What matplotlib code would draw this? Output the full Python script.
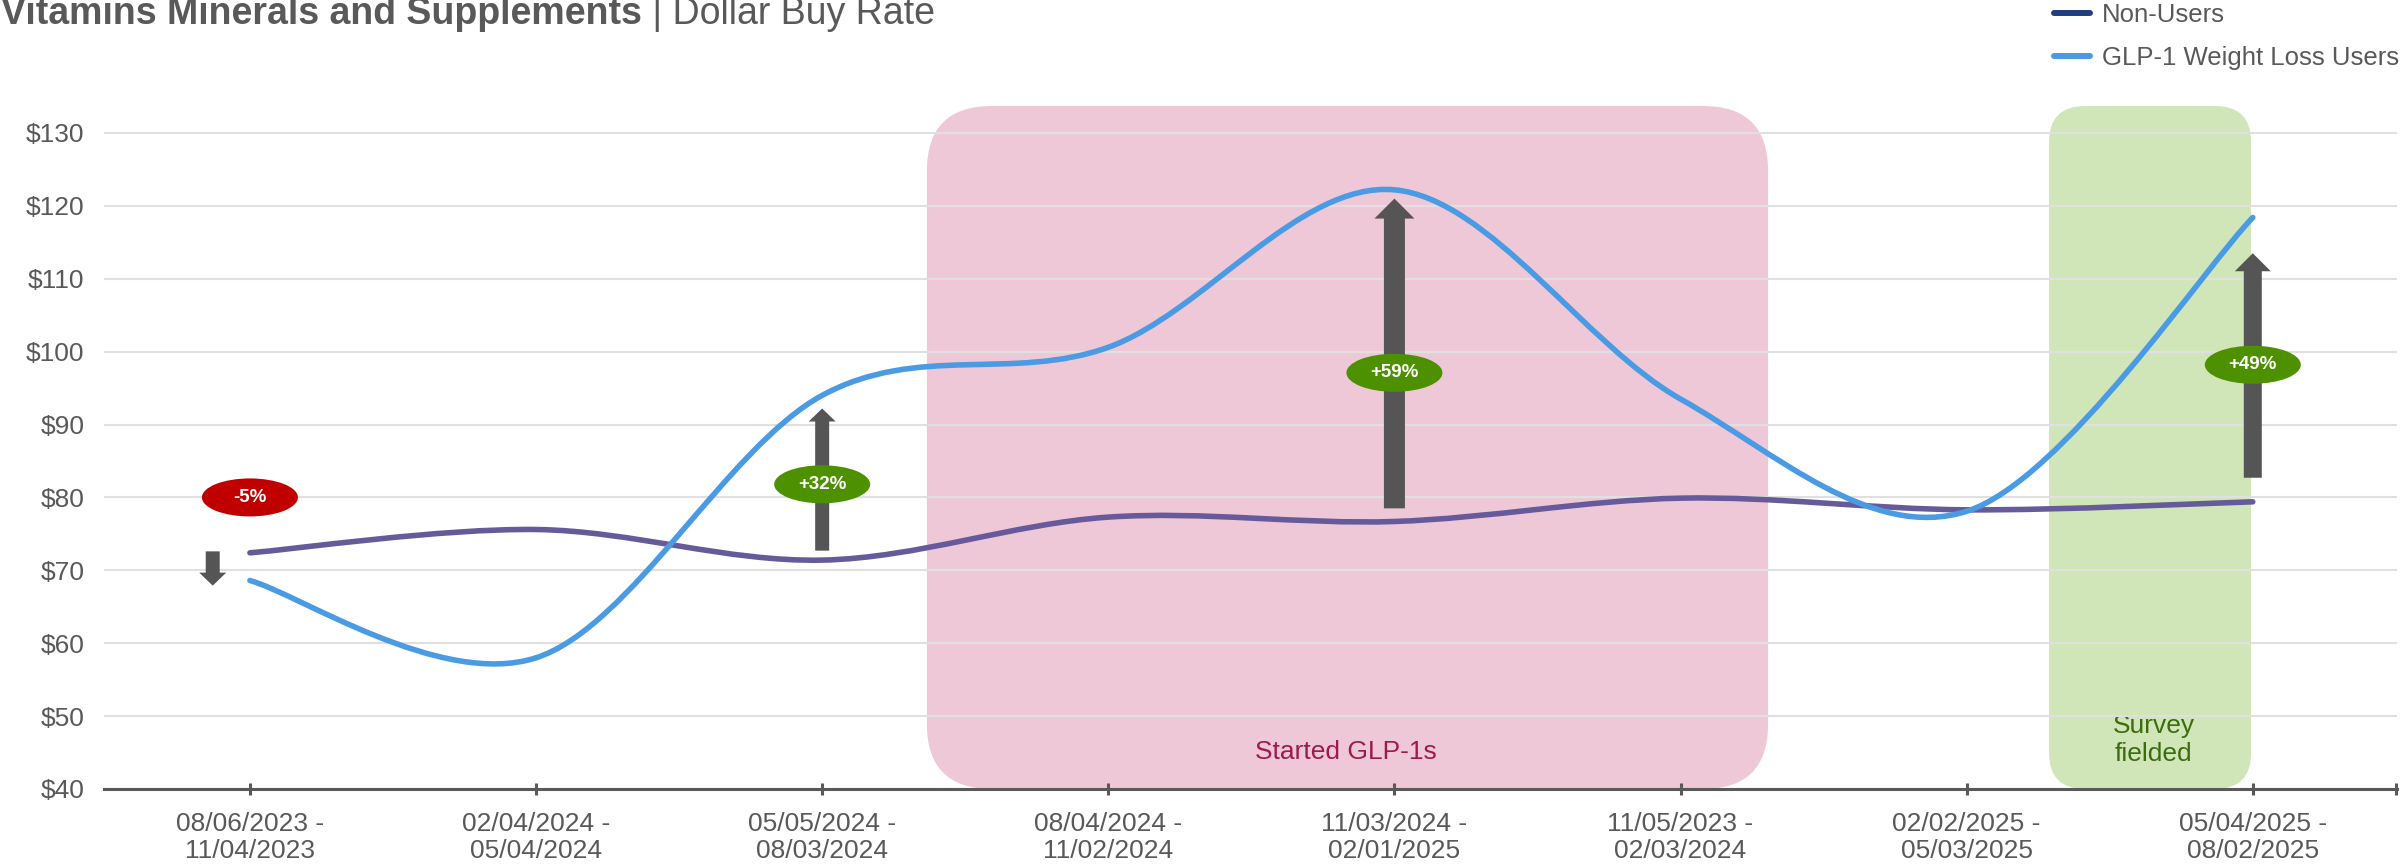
import matplotlib
matplotlib.use("Agg")
import matplotlib.pyplot as plt
from matplotlib.lines import Line2D
from matplotlib.patches import Ellipse, FancyArrow, FancyBboxPatch, PathPatch
from matplotlib.path import Path

periods = [
    "08/06/2023 -\n11/04/2023",
    "02/04/2024 -\n05/04/2024",
    "05/05/2024 -\n08/03/2024",
    "08/04/2024 -\n11/02/2024",
    "11/03/2024 -\n02/01/2025",
    "11/05/2023 -\n02/03/2024",
    "02/02/2025 -\n05/03/2025",
    "05/04/2025 -\n08/02/2025",
]
non_users = [72.4, 75.6, 71.4, 77.3, 76.7, 79.9, 78.3, 79.4]
glp1_users = [68.6, 58.0, 94.0, 100.6, 122.2, 93.5, 78.1, 118.4]

# periods that get a change callout
change_idx = [0, 2, 4, 7]
arrow_from = [72.6, 72.7, 78.5, 82.7]
arrow_to = [67.9, 92.2, 121.0, 113.5]
badge_y = [80.0, 81.8, 97.1, 98.2]

# shaded phases (in category units)
glp1_start = (2.366, 5.306)
survey_window = (6.288, 6.994)

W, H = 2404, 867
GREY = "#595959"
PURPLE = "#675A9A"
BLUE = "#4A9BE3"
NAVY = "#203F7E"

plt.rcParams["font.family"] = ["Liberation Sans", "DejaVu Sans"]


def smooth_path(xs, ys):
    # Catmull-Rom style bezier through every point (like Excel's smoothed line)
    pts = list(zip(xs, ys))
    n = len(pts)
    verts = [pts[0]]
    codes = [Path.MOVETO]
    for i in range(n - 1):
        p0 = pts[max(i - 1, 0)]
        p1 = pts[i]
        p2 = pts[i + 1]
        p3 = pts[min(i + 2, n - 1)]
        c1 = (p1[0] + (p2[0] - p0[0]) / 6, p1[1] + (p2[1] - p0[1]) / 6)
        c2 = (p2[0] - (p3[0] - p1[0]) / 6, p2[1] - (p3[1] - p1[1]) / 6)
        verts += [c1, c2, p2]
        codes += [Path.CURVE4] * 3
    return Path(verts, codes)


fig = plt.figure(figsize=(W / 100, H / 100), dpi=100)
ax = fig.add_axes([104 / W, 1 - 789 / H, (2397 - 104) / W, (789 - 106) / H])

xmin, xmax = -0.51, 7.504
ymin, ymax = 40, 133.7
ax.set_xlim(xmin, xmax)
ax.set_ylim(ymin, ymax)

# pixel size of one data unit, used to keep shapes round
px_x = (2397 - 104) / (xmax - xmin)
px_y = (789 - 106) / (ymax - ymin)
aspect = px_x / px_y

for (x0, x1), color, r_px in [
    (glp1_start, "#EFC8D7", 65),
    (survey_window, "#D0E6B8", 36),
]:
    box = FancyBboxPatch(
        (x0, ymin), x1 - x0, ymax - ymin,
        boxstyle="round,pad=0,rounding_size={}".format(r_px / px_x),
        mutation_aspect=aspect, facecolor=color, edgecolor="none", zorder=0.2,
    )
    ax.add_patch(box)

ax.text(sum(glp1_start) / 2 - 0.005, 45.1, "Started GLP-1s", ha="center",
        va="center", fontsize=19, color="#9E1A4E", zorder=0.3)
ax.text(sum(survey_window) / 2 + 0.012, 46.7, "Survey\nfielded", ha="center",
        va="center", fontsize=19, color="#3B6D10", zorder=0.3)

ax.set_axisbelow(True)
ax.yaxis.grid(True, color="#E0E0E0", lw=1.5)
ax.set_yticks(range(40, 131, 10))
ax.set_yticklabels(["${}".format(v) for v in range(40, 131, 10)])

xs = list(range(len(periods)))
for vals, color in [(non_users, PURPLE), (glp1_users, BLUE)]:
    ax.add_patch(PathPatch(smooth_path(xs, vals), fill=False, edgecolor=color,
                           lw=4.0, capstyle="round", joinstyle="round", zorder=3))

# change arrows and percentage badges
arrow_px = [(14, 27, 13), (14, 27, 13), (21, 40, 20), (18, 36, 18)]
for k, i in enumerate(change_idx):
    ax_x = i - 0.13 if i == 0 else i
    shaft, head_w, head_l = arrow_px[k]
    ax.add_patch(FancyArrow(
        ax_x, arrow_from[k], 0, arrow_to[k] - arrow_from[k],
        width=shaft / px_x, head_width=head_w / px_x, head_length=head_l / px_y,
        length_includes_head=True, facecolor="#555555", edgecolor="none", zorder=4,
    ))
    pct = (glp1_users[i] / non_users[i] - 1) * 100
    badge_color = "#C00000" if pct < 0 else "#4E9100"
    ax.add_patch(Ellipse((i, badge_y[k]), 96 / px_x, 38 / px_y,
                         facecolor=badge_color, edgecolor="none", zorder=5))
    ax.text(i, badge_y[k], "{:+.0f}%".format(pct), ha="center", va="center",
            fontsize=13.5, fontweight="bold", color="white", zorder=6)

for side in ["left", "right", "top"]:
    ax.spines[side].set_visible(False)
ax.spines["bottom"].set_color(GREY)
ax.spines["bottom"].set_linewidth(2.2)

ax.set_xticks(xs)
ax.set_xticklabels(periods, fontsize=19, color=GREY, linespacing=1.15)
ax.set_xticks([7.5], minor=True)
ax.tick_params(axis="x", which="both", direction="inout", length=8, width=2.2,
               color=GREY, pad=12.5)
ax.tick_params(axis="y", length=0, pad=14, labelsize=19, labelcolor=GREY)

handles = [Line2D([], [], color=NAVY, lw=4.3, solid_capstyle="round"),
           Line2D([], [], color=BLUE, lw=4.3, solid_capstyle="round")]
leg = fig.legend(handles, ["Non-Users", "GLP-1 Weight Loss Users"],
                 loc="upper right", bbox_to_anchor=(2399 / W, 1 - 3 / H),
                 frameon=False, fontsize=18.5, handlelength=1.4,
                 handletextpad=0.45, labelspacing=0.75, borderpad=0,
                 borderaxespad=0)
for t in leg.get_texts():
    t.set_color(GREY)

renderer = fig.canvas.get_renderer()
t1 = fig.text(1 / W, 1 - 24 / H, "Vitamins Minerals and Supplements",
              fontsize=27, fontweight="bold", color=GREY, va="baseline")
bb = t1.get_window_extent(renderer)
fig.text(bb.x1 / W, 1 - 24 / H, " | Dollar Buy Rate", fontsize=27,
         color=GREY, va="baseline")

fig.savefig("out.png", dpi=100)
